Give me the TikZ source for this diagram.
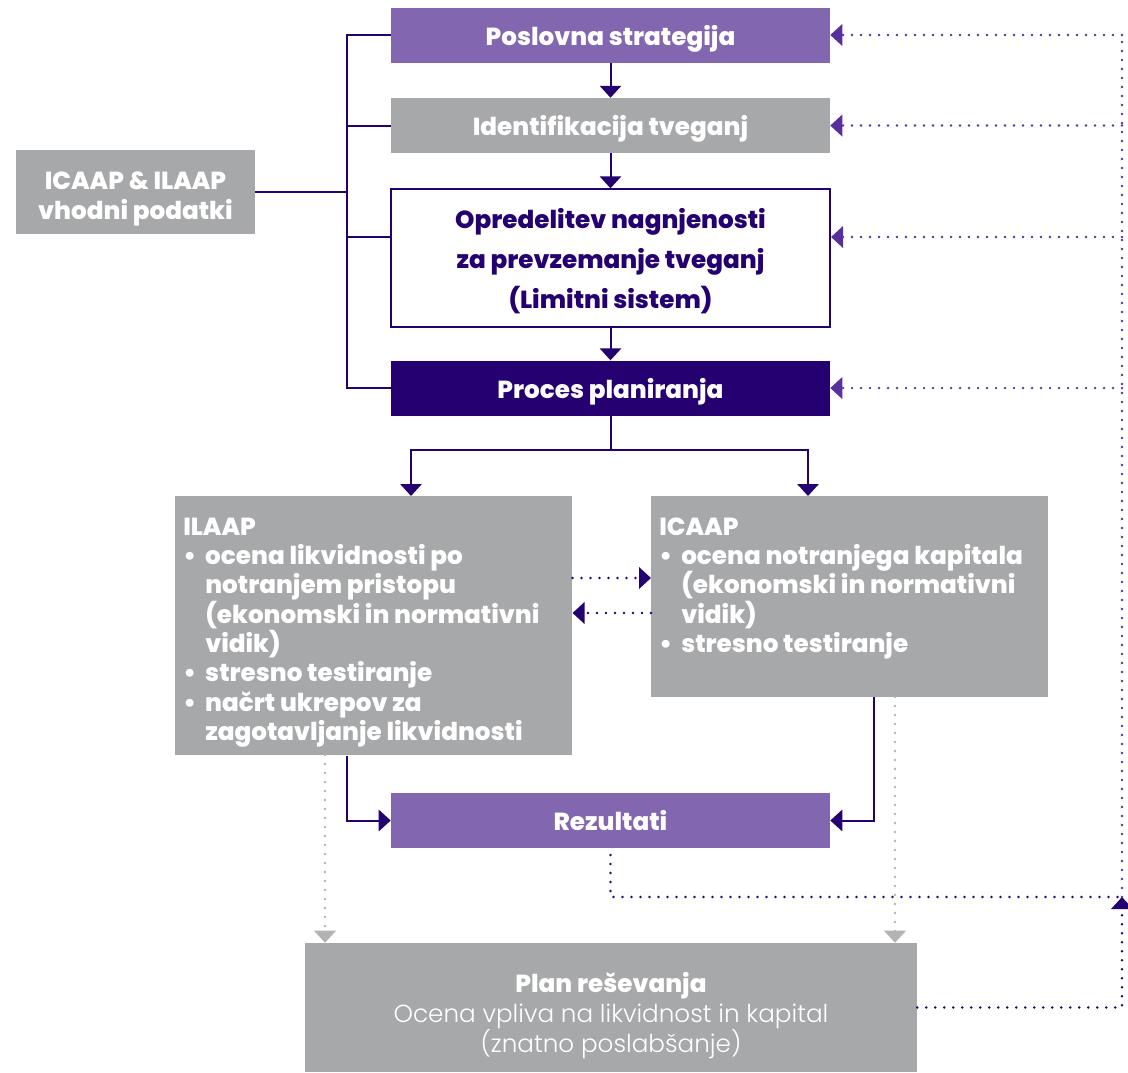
\documentclass[tikz,border=0pt]{standalone}
\usepackage{fontspec}
\setmainfont{Poppins}[BoldFont={Poppins ExtraBold}]
\newfontfamily\lightfont{Poppins Light}[BoldFont={Poppins Light}]
\usetikzlibrary{arrows.meta, positioning}
\definecolor{midpurple}{RGB}{131,102,176}
\definecolor{darkpurple}{RGB}{37,0,112}
\definecolor{dotpurple}{RGB}{88,48,158}
\definecolor{boxgrey}{RGB}{167,168,170}
\definecolor{dotgrey}{RGB}{178,179,181}
\newcommand{\bul}{\makebox[16.5pt][l]{\textbullet}}
\newcommand{\ind}{\hspace*{16.5pt}}

\begin{document}
\begin{tikzpicture}[x=0.75pt, y=-0.75pt, >={Triangle[length=9pt, width=16pt]}, node distance=26.25pt,
  font=\fontsize{18.5}{22}\selectfont\bfseries,
  box/.style={rectangle, inner sep=0pt, minimum width=329.25pt, minimum height=41.25pt, text=white, align=center, text depth=0pt},
  purplebox/.style={box, fill=midpurple},
  greybox/.style={box, fill=boxgrey},
  boxtext/.style={text=white, align=center, inner sep=0pt},
  listtext/.style={text=white, align=left, inner xsep=6pt, inner ysep=16pt, font=\fontsize{18.5}{22}\selectfont\bfseries},
  line/.style={darkpurple, line width=1.5pt},
  arr/.style={line, ->},
  dotline/.style={dotpurple, line width=2pt, line cap=round, dash pattern=on 0pt off 6.75pt},
  dotarr/.style={dotline, ->},
  darkdots/.style={dotline, darkpurple},
  greydots/.style={dotline, dotgrey, ->}]
  \useasboundingbox (0,0) rectangle (1128,1072);
  % main column
  \node[purplebox] (pos) at (610.5,35) {Poslovna strategija};
  \node[greybox, below=of pos] (iden) {Identifikacija tveganj};
  \node[box, below=of iden, fill=white, draw=darkpurple, line width=1.5pt, text=darkpurple, minimum height=103.5pt, font=\fontsize{18.5}{30}\selectfont\bfseries] (opr) {Opredelitev nagnjenosti\\za prevzemanje tveganj\\(Limitni sistem)};
  \node[box, fill=darkpurple, below=24pt of opr] (proc) {Proces planiranja};
  \node[greybox, minimum width=179.25pt, minimum height=63pt] (input) at (135.5,192) {};
  \node[boxtext, font=\fontsize{18.5}{22.5}\selectfont\bfseries] (inputtext) at ([yshift=-5pt]input.center) {ICAAP \& ILAAP\\vhodni podatki};
  % ILAAP / ICAAP
  \node[greybox, minimum width=297.75pt, minimum height=194.25pt, anchor=north west] (ilaap) at (175,496) {};
  \node[listtext, anchor=north west] (ilaaptext) at (ilaap.north west) {ILAAP\\
    \bul ocena likvidnosti po\\ \ind notranjem pristopu\\ \ind (ekonomski in normativni\\ \ind vidik)\\
    \bul stresno testiranje\\
    \bul načrt ukrepov za\\ \ind zagotavljanje likvidnosti};
  \node[greybox, minimum width=297.75pt, minimum height=150.75pt, anchor=north west] (icaap) at (651,496) {};
  \node[listtext, anchor=north west] (icaaptext) at (icaap.north west) {ICAAP\\
    \bul ocena notranjega kapitala\\ \ind (ekonomski in normativni\\ \ind vidik)\\
    \bul stresno testiranje};
  \node[purplebox] (rez) at (610.5,820.5) {Rezultati};
  \node[greybox, minimum width=459pt, minimum height=96.75pt] (plan) at (611,1007.5) {};
  \node[boxtext, font=\fontsize{18.5}{22.5}\selectfont\bfseries] (plantext) at ([yshift=-6pt]plan.center) {Plan reševanja\\{\mdseries\lightfont Ocena vpliva na likvidnost in kapital}\\{\mdseries\lightfont (znatno poslabšanje)}};

  \coordinate (spine) at (347,0);
  \coordinate (rail) at (1122,897);
  \coordinate (split) at (610.5,450);
  \coordinate (ilaapin) at (411,496);
  \coordinate (icaapin) at (808,496);
  \coordinate (oprlevel) at (0,237);
  \coordinate (swapA) at (0,578);
  \coordinate (swapB) at (0,613);
  \coordinate (icaapout) at (874,697);
  \coordinate (ilaapdots) at (325,755);
  \coordinate (icaapdots) at (895,697);
  \coordinate (rezout) at (610.5,855);

  % inputs on the left
  \draw[line] (pos.west) -| (spine |- proc.west) -- (proc.west);
  \draw[line] (iden.west) -- (iden.west -| spine);
  \draw[line] (oprlevel -| opr.west) -- (oprlevel -| spine);
  \draw[line] (input.east) -- (input.east -| spine);
  % down the column
  \draw[arr] (pos) -- (iden);
  \draw[arr] (iden) -- (opr);
  \draw[arr] (opr) -- (proc);
  \draw[line] (proc.south) -- (split);
  \draw[arr] (split) -| (ilaapin);
  \draw[arr] (split) -| (icaapin);
  \draw[darkdots, ->] (swapA -| ilaap.east) -- (swapA -| icaap.west);
  \draw[darkdots, ->] (swapB -| icaap.west) -- (swapB -| ilaap.east);
  \draw[arr] (ilaap.south -| spine) |- (rez.west);
  \draw[arr] (icaapout) |- (rez.east);
  \draw[greydots] (ilaapdots) -- (ilaapdots |- plan.north);
  \draw[greydots] (icaapdots) -- (icaapdots |- plan.north);
  % feedback on the right
  \draw[darkdots] (rezout) |- (rail);
  \draw[darkdots, ->] (plan.east) -| (rail);
  \draw[dotline] (rail) -- (rail |- pos.east);
  \draw[dotarr] (pos.east -| rail) -- (pos.east);
  \draw[dotarr] (iden.east -| rail) -- (iden.east);
  \draw[dotarr] (oprlevel -| rail) -- (oprlevel -| opr.east);
  \draw[dotarr] (proc.east -| rail) -- (proc.east);
\end{tikzpicture}
\end{document}
